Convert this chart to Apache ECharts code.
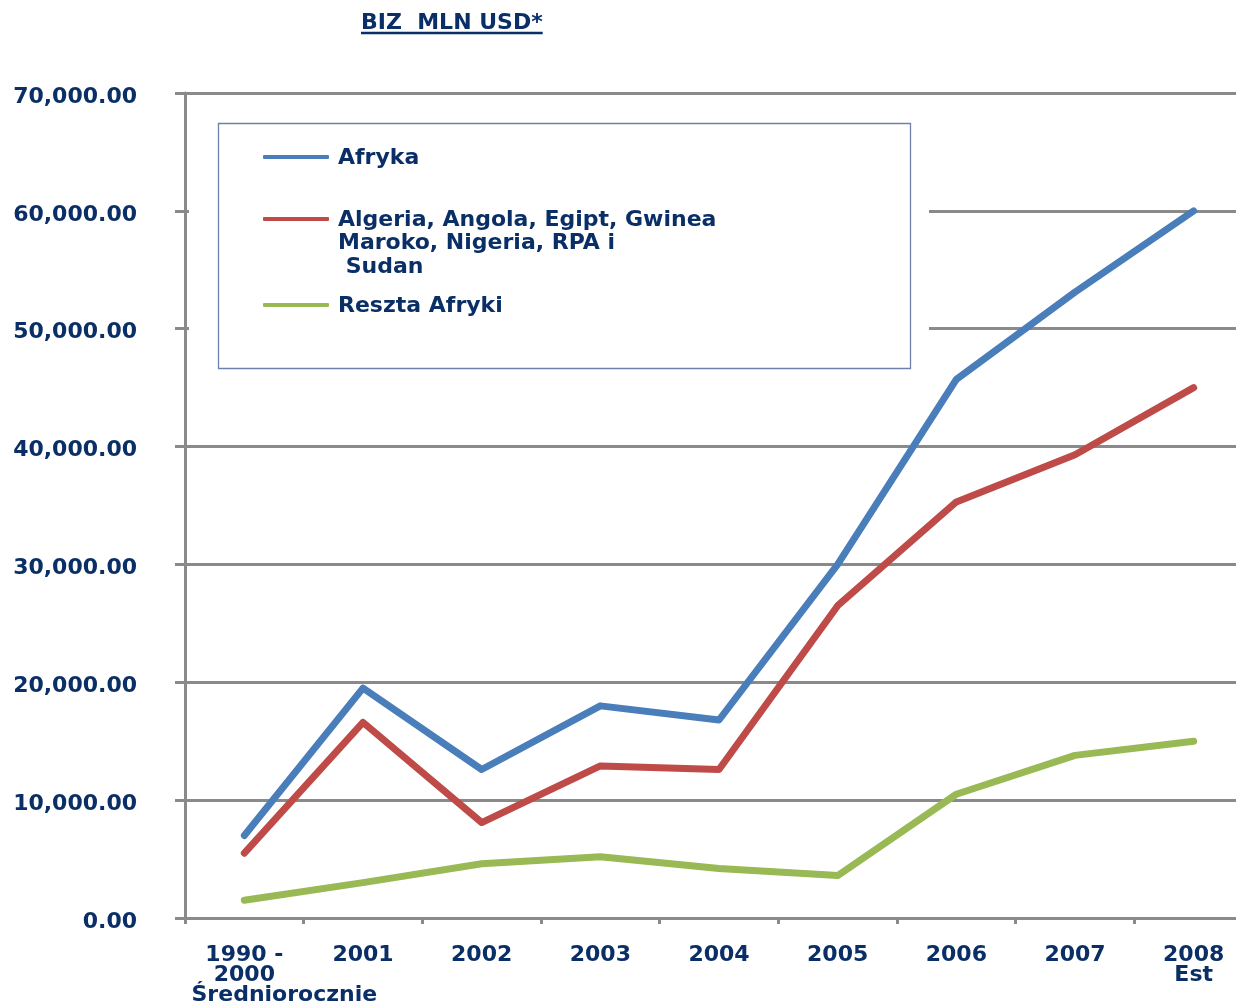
<!DOCTYPE html>
<html>
<head>
<meta charset="utf-8">
<script src="https://cdn.jsdelivr.net/npm/echarts@6/dist/echarts.min.js"></script>
<style>
  html, body { margin: 0; padding: 0; background: #ffffff; }
  #chart { width: 1236px; height: 1005px; }
</style>
</head>
<body>
<div id="chart"></div>
<script>
// Foreign direct investment inflows to Africa, million USD
const categories = ['1990 -\n2000\nŚredniorocznie', '2001', '2002', '2003', '2004', '2005', '2006', '2007', '2008\nEst'];
const seriesNames = ['Afryka', 'Algeria, Angola, Egipt, Gwinea\nMaroko, Nigeria, RPA i\n Sudan', 'Reszta Afryki'];
const afryka = [7000, 19500, 12600, 18000, 16800, 30000, 45700, 53100, 60000];
const wybraneKraje = [5500, 16600, 8100, 12900, 12600, 26500, 35300, 39300, 45000];
const resztaAfryki = [1500, 3000, 4600, 5200, 4200, 3600, 10500, 13800, 15000];
const yTicks = { min: 0, max: 70000, interval: 10000 };
const titleText = 'BIZ  MLN USD*';

const NAVY = '#0a2f66';
const GREY = '#8a8a8a';
const FONT = '"DejaVu Sans", Verdana, sans-serif';
const FS = 22;
const COLORS = ['#4a7ebb', '#be4b48', '#98b954'];

const chart = echarts.init(document.getElementById('chart'), null, { renderer: 'canvas' });

// width of the title so the underline spans it
const mctx = document.createElement('canvas').getContext('2d');
mctx.font = 'bold ' + FS + 'px ' + FONT;
const titleWidth = mctx.measureText(titleText).width;

const legendRich = {
  t: { fontFamily: FONT, fontWeight: 'bold', fontSize: FS, color: NAVY, lineHeight: 23.5, padding: [2, 0, 0, 4] }
};

function makeSeries(name, data) {
  return {
    name: name,
    type: 'line',
    data: data,
    symbol: 'none',
    smooth: false,
    z: 5,
    lineStyle: { width: 7, cap: 'round', join: 'round' }
  };
}

function legendItem(name, top, leadingBlankLines) {
  return {
    data: [name], left: 263, top: top, padding: 0, z: 6,
    icon: 'roundRect', itemWidth: 66, itemHeight: 4,
    formatter: function (n) {
      const lines = n.split('\n').map(function (l) { return '{t|' + l + '}'; });
      for (let i = 0; i < leadingBlankLines; i++) lines.unshift('{t| }');
      return lines.join('\n');
    },
    textStyle: { fontFamily: FONT, fontWeight: 'bold', fontSize: FS, color: NAVY, lineHeight: 23.5, rich: legendRich }
  };
}

chart.setOption({
  animation: false,
  color: COLORS,
  title: {
    text: titleText,
    left: 361,
    top: 10,
    padding: 0,
    textStyle: { fontFamily: FONT, fontWeight: 'bold', fontSize: FS, color: NAVY, lineHeight: 26 }
  },
  graphic: [
    {
      type: 'line', z: 10,
      shape: { x1: 361, y1: 33, x2: 361 + titleWidth, y2: 33 },
      style: { stroke: NAVY, lineWidth: 2.5 }
    },
    {
      // white panel behind the legend hides the grid lines
      type: 'rect', z: 1, silent: true,
      shape: { x: 189, y: 110, width: 740, height: 270 },
      style: { fill: '#ffffff' }
    },
    {
      type: 'rect', z: 2, silent: true,
      shape: { x: 218.5, y: 123.5, width: 692, height: 245 },
      style: { fill: '#ffffff', stroke: '#6f80ad', lineWidth: 1.3 }
    }
  ],
  legend: [
    legendItem(seriesNames[0], 145, 0),
    // two leading blank lines keep the first text line level with the icon
    legendItem(seriesNames[1], 160, 2),
    legendItem(seriesNames[2], 293, 0)
  ],
  grid: { left: 185, top: 93, width: 1068, height: 825, containLabel: false, outerBoundsMode: 'none' },
  xAxis: {
    type: 'category',
    data: categories,
    boundaryGap: true,
    axisLine: { show: true, lineStyle: { color: GREY, width: 3 } },
    axisTick: { show: true, length: 6, interval: 0, lineStyle: { color: GREY, width: 3 } },
    splitLine: { show: false },
    axisLabel: {
      interval: 0,
      margin: 28,
      fontFamily: FONT, fontWeight: 'bold', fontSize: FS, color: NAVY, lineHeight: 19.5,
      formatter: function (value) {
        return value.split('\n').map(function (l) {
          return l === 'Średniorocznie' ? '{s|' + l + '}' : '{n|' + l + '}';
        }).join('\n');
      },
      rich: {
        n: { fontFamily: FONT, fontWeight: 'bold', fontSize: FS, color: NAVY, lineHeight: 19.5 },
        s: { fontFamily: FONT, fontWeight: 'bold', fontSize: FS, color: NAVY, lineHeight: 21, padding: [0, 0, 0, 80] }
      }
    }
  },
  yAxis: {
    type: 'value',
    min: yTicks.min,
    max: yTicks.max,
    interval: yTicks.interval,
    axisLine: { show: true, lineStyle: { color: GREY, width: 3 } },
    axisTick: { show: true, length: 10, lineStyle: { color: GREY, width: 3 } },
    splitLine: { show: true, lineStyle: { color: GREY, width: 3 } },
    axisLabel: {
      margin: 48,
      fontFamily: FONT, fontWeight: 'bold', fontSize: FS, color: NAVY,
      formatter: function (v) {
        return '{v|' + v.toLocaleString('en-US', { minimumFractionDigits: 2, maximumFractionDigits: 2 }) + '}';
      },
      rich: {
        v: { fontFamily: FONT, fontWeight: 'bold', fontSize: FS, color: NAVY, padding: [8, 0, 0, 0] }
      }
    }
  },
  series: [
    makeSeries(seriesNames[0], afryka),
    makeSeries(seriesNames[1], wybraneKraje),
    makeSeries(seriesNames[2], resztaAfryki)
  ]
});
</script>
</body>
</html>
